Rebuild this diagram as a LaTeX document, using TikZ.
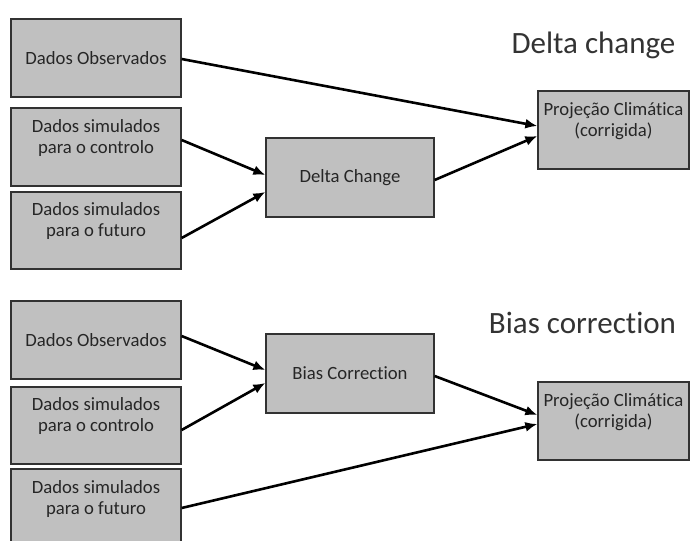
\documentclass[tikz,border=0pt]{standalone}
\usepackage{fontspec}
\setmainfont{Carlito}[RawFeature=-liga]
\usetikzlibrary{arrows.meta}
\definecolor{boxgray}{RGB}{192,192,192}
\definecolor{boxedge}{RGB}{50,50,50}
\tikzset{
  box/.style={draw=boxedge, line width=1.3pt, fill=boxgray, rectangle, inner sep=0pt,
    align=center, font=\fontsize{18.7}{21}\selectfont, text=black!85},
  flow/.style={line width=2.6pt, -{Latex[length=12pt,width=10pt]}, black},
  titletext/.style={font=\fontsize{31}{35}\selectfont, text=black!80}
}
\begin{document}
\begin{tikzpicture}[x=1pt,y=-1pt]
\fill[white] (0,0) rectangle (691,541);
\useasboundingbox (0,0) rectangle (691,541);
\begin{scope}
\clip (0,0) rectangle (691,541);
% top
\node[box, minimum width=170pt, minimum height=78pt] (do1) at (96,58) {Dados Observados};
\node[box, minimum width=170pt, minimum height=78pt] (c1) at (96,147) {Dados simulados\\para o controlo\\\mbox{}};
\node[box, minimum width=170pt, minimum height=77pt] (f1) at (96,230.5) {Dados simulados\\para o futuro\\\mbox{}};
\node[box, minimum width=168pt, minimum height=79pt] (dc) at (350,177.5) {Delta Change};
\node[box, minimum width=151pt, minimum height=78pt] (p1) at (613.5,130) {Projeção Climática\\(corrigida)\\\mbox{}};
\node[titletext] (t1) at (593.5,45) {Delta change};
% bottom
\node[box, minimum width=170pt, minimum height=78pt] (do2) at (96,340) {Dados Observados};
\node[box, minimum width=170pt, minimum height=77pt] (c2) at (96,425.5) {Dados simulados\\para o controlo\\\mbox{}};
\node[box, minimum width=170pt, minimum height=78pt] (f2) at (96,508) {Dados simulados\\para o futuro\\\mbox{}};
\node[box, minimum width=168pt, minimum height=79pt] (bc) at (350,373.5) {Bias Correction};
\node[box, minimum width=151pt, minimum height=78pt] (p2) at (613.5,421) {Projeção Climática\\(corrigida)\\\mbox{}};
\node[titletext] (t2) at (582.5,323) {Bias correction};
\end{scope}
% arrows top
\draw[flow] ([yshift=-1pt]do1.east) -- ([yshift=4pt]p1.west);
\draw[flow] ([yshift=7pt]c1.east) -- ([yshift=2.5pt]dc.west);
\draw[flow] ([yshift=-7.5pt]f1.east) -- ([yshift=-14.5pt]dc.west);
\draw[flow] ([yshift=-2.5pt]dc.east) -- ([yshift=-6pt]p1.west);
% arrows bottom
\draw[flow] ([yshift=4pt]do2.east) -- ([yshift=3.5pt]bc.west);
\draw[flow] ([yshift=-4.5pt]c2.east) -- ([yshift=-9.5pt]bc.west);
\draw[flow] (f2.east) -- ([yshift=-3pt]p2.west);
\draw[flow] ([yshift=-2.5pt]bc.east) -- ([yshift=6pt]p2.west);
\end{tikzpicture}
\end{document}
